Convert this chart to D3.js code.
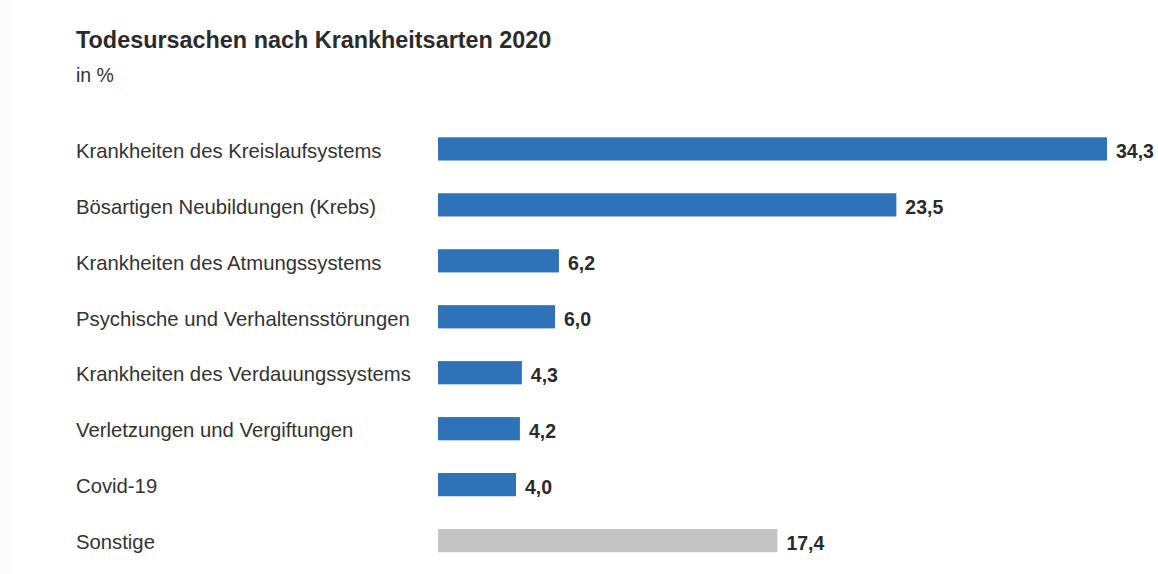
<!DOCTYPE html>
<html>
<head>
<meta charset="utf-8">
<script src="https://cdn.jsdelivr.net/npm/d3@7"></script>
<style>
  html, body { margin: 0; padding: 0; background: #fff; }
  svg { display: block; font-family: "Liberation Sans", Arial, sans-serif; }
</style>
</head>
<body>
<svg id="chart" width="1158" height="574"></svg>
<script>
// Causes of death by disease group, 2020 (share in %)
const categories = [
  "Krankheiten des Kreislaufsystems",
  "Bösartigen Neubildungen (Krebs)",
  "Krankheiten des Atmungssystems",
  "Psychische und Verhaltensstörungen",
  "Krankheiten des Verdauungssystems",
  "Verletzungen und Vergiftungen",
  "Covid-19",
  "Sonstige"
];
const values = [34.3, 23.5, 6.2, 6.0, 4.3, 4.2, 4.0, 17.4];
const groups = ["main", "main", "main", "main", "main", "main", "main", "other"];

const title = "Todesursachen nach Krankheitsarten 2020";
const subtitle = "in %";

const W = 1158, H = 574;
const svg = d3.select("#chart");

// subtle panel background
svg.append("rect").attr("x", 0).attr("y", 0).attr("width", W).attr("height", H).attr("fill", "#fbfbfb");
svg.append("rect").attr("x", 12).attr("y", 0).attr("width", W - 12).attr("height", H).attr("fill", "#ffffff");

const x = d3.scaleLinear().domain([0, 34.3]).range([438, 1107]);
const y = d3.scaleBand().domain(categories).range([120.5, 569]).paddingInner(0.585).paddingOuter(0.3);

const colour = d3.scaleOrdinal().domain(["main", "other"]).range(["#2e73b8", "#c4c4c4"]);
const fmt = v => d3.format(".1f")(v).replace(".", ",");

svg.append("text")
  .attr("x", 76).attr("y", 47.5)
  .attr("font-size", 23.4).attr("font-weight", "bold").attr("fill", "#2b2b2b")
  .text(title);

svg.append("text")
  .attr("x", 76).attr("y", 82)
  .attr("font-size", 19.5).attr("fill", "#333")
  .text(subtitle);

const rows = svg.append("g").selectAll("g")
  .data(categories.map((c, i) => ({ c, v: values[i], g: groups[i] })))
  .join("g");

rows.append("text")
  .attr("x", 76)
  .attr("y", d => y(d.c) + y.bandwidth() / 2)
  .attr("dy", "0.43em")
  .attr("font-size", 20.3).attr("fill", "#333")
  .text(d => d.c);

rows.append("rect")
  .attr("x", x(0))
  .attr("y", d => y(d.c))
  .attr("width", d => x(d.v) - x(0))
  .attr("height", y.bandwidth())
  .attr("fill", d => colour(d.g));

rows.append("text")
  .attr("x", d => x(d.v) + 9)
  .attr("y", d => y(d.c) + y.bandwidth() / 2)
  .attr("dy", "0.48em")
  .attr("font-size", 19.5).attr("font-weight", "bold").attr("fill", "#2b2b2b")
  .text(d => fmt(d.v));
</script>
</body>
</html>
